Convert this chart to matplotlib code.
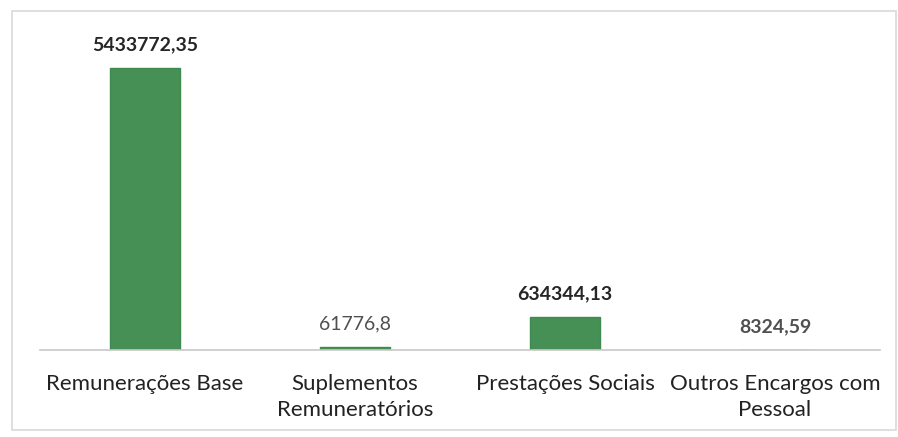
import matplotlib
matplotlib.use("Agg")
import matplotlib.pyplot as plt
from matplotlib.patches import Rectangle

categories = ["Remunerações Base", "Suplementos\nRemuneratórios",
              "Prestações Sociais", "Outros Encargos com\nPessoal"]
values = [5433772.35, 61776.8, 634344.13, 8324.59]
value_labels = ["5433772,35", "61776,8", "634344,13", "8324,59"]
label_weights = ["bold", "normal", "bold", "bold"]
label_colors = ["#262626", "#505050", "#262626", "#505050"]

FONT = ["Lato", "DejaVu Sans"]

W, H = 898, 437
fig = plt.figure(figsize=(W / 100, H / 100), dpi=100)
fig.patch.set_facecolor("white")

# outer chart frame
fig.patches.append(Rectangle((12 / W, 7 / H), (W - 14) / W, (H - 18) / H,
                             transform=fig.transFigure, fill=False,
                             edgecolor="#d9d9d9", linewidth=1.2))

ax = fig.add_axes([40 / W, (H - 350) / H, 840 / W, 282 / H / 0.93])
x = range(len(categories))
ax.bar(x, values, width=0.33, color="#468f55", edgecolor="#3f8a4e", zorder=2)
ax.set_xlim(-0.5, 3.5)
ax.set_ylim(0, max(values) / 0.93)

for s in ["top", "right", "left"]:
    ax.spines[s].set_visible(False)
ax.spines["bottom"].set_color("#c8c8c8")
ax.spines["bottom"].set_linewidth(1.2)
ax.set_yticks([])
ax.set_xticks(list(x))
ax.set_xticklabels(categories, fontsize=16, color="#222222",
                   family=FONT, linespacing=1.35)
ax.tick_params(axis="x", length=0, pad=17.5)

for i, (v, lab, w, c) in enumerate(zip(values, value_labels, label_weights, label_colors)):
    ax.annotate(lab, (i, v), xytext=(0, 12.5), textcoords="offset points",
                ha="center", va="baseline", fontsize=14, fontweight=w, color=c,
                family=FONT)

fig.savefig("out.png", dpi=100, facecolor="white")
